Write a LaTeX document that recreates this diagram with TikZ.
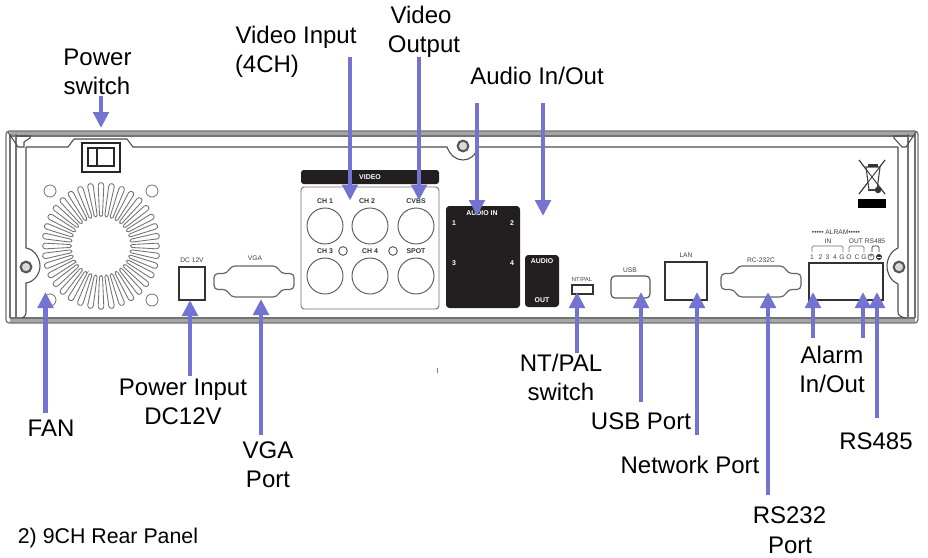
\documentclass[tikz,border=0pt]{standalone}
\usepackage{fontspec}
\setmainfont{Liberation Sans}
\usetikzlibrary{arrows.meta}
\definecolor{arrowblue}{HTML}{7373D2}
\definecolor{panelink}{HTML}{231F20}
\tikzset{
  x=0.75pt,y=-0.75pt,
  lbl/.style={anchor=base,inner sep=0pt,font=\fontsize{18}{18}\selectfont},
  tiny/.style={inner sep=0pt,text=black!75,font=\fontsize{5}{5}\selectfont},
  tinyb/.style={inner sep=0pt,text=black!80,font=\fontsize{5.2}{5}\selectfont\bfseries},
  tinyw/.style={inner sep=0pt,text=white,font=\fontsize{5.2}{5}\selectfont\bfseries},
  arr/.style={draw=arrowblue,line width=3.7pt,-{Triangle[length=12pt,width=11.5pt]}},
  wall/.style={draw=black!70,line width=0.8pt},
  band/.style={draw=black!55,line width=1pt},
  conn/.style={draw=black!75,line width=0.7pt},
  port/.style={draw=black!80,line width=0.9pt},
  bnc/.style={draw=black!65,line width=0.7pt,fill=white},
}
\newcommand{\dsubat}[2]{\draw[port,draw=black!60,rounded corners=3pt,shift={(#1,#2)}]
  (-40,-8) -- (-27,-8) -- (-23,-15.5) -- (23,-15.5) -- (27,-8) -- (40,-8) -- (40,8) -- (27,8)
  -- (23,15.5) -- (-23,15.5) -- (-27,8) -- (-40,8) -- cycle;}
\begin{document}
\begin{tikzpicture}
\useasboundingbox (0,0) rectangle (928,557);
\fill[white] (0,0) rectangle (928,557);

% chassis
\fill[black!35] (10,131) rectangle (915,136);
\fill[black!35] (10,318) rectangle (915,323);
\draw[band,rounded corners=2.5pt] (6,131) -- (918,131) -- (918,323) -- (6,323) -- cycle;
\draw[band] (10,136) -- (915,136);
\draw[band] (10,318) -- (915,318);
\draw[band] (10,134) -- (10,318);
\draw[band] (16,134) -- (16,318);
\draw[band] (908,134) -- (908,318);
\draw[band] (915,134) -- (915,318);
\draw[wall] (26,147) -- (68,147) -- (74,139) -- (127,139) -- (133,147) -- (447,147)
  .. controls (450,155) and (456,160) .. (463,160) .. controls (470,160) and (476,155) .. (478,147) -- (898,147);
\draw[wall] (26,147) -- (26,248) .. controls (34,249) and (40,258) .. (40,266)
  .. controls (40,274) and (34,282) .. (26,283) -- (26,312) .. controls (26,316) and (24,317) .. (22,318);
\draw[wall] (898,147) -- (898,248) .. controls (892,250) and (887,258) .. (887,266)
  .. controls (887,274) and (892,282) .. (898,284) -- (898,312) .. controls (898,316) and (901,317) .. (906,318);
% corner brackets
\draw[wall] (16,136) -- (30,136) -- (30,138) -- (24,142) -- (24,147) -- (18,147) -- (8,132);
\draw[wall] (908,136) -- (894,136) -- (894,138) -- (902,147) -- (906,147) -- (916,132);
% screws
\foreach \n/\sx/\sy in {sl/26/267,st/463/146,sr/899/267}{
  \node[circle,draw=black!65,line width=1.6pt,fill=black!15,minimum size=8pt,inner sep=0pt] (\n) at (\sx,\sy) {};
}

% power switch
\draw[draw=black!85,line width=1.1pt] (82,143) rectangle (120,172);
\draw[draw=black!85,line width=0.8pt] (88,148) rectangle (114,166);
\draw[draw=black!85,line width=0.8pt] (97,148) -- (97,166);

% fan
\draw[draw=black!55,line width=0.6pt] (50,191) circle (6) (152,191) circle (6) (50,300) circle (6) (152,300) circle (6);
\foreach \a in {0,10,...,350}{
  \pgfmathsetmacro{\ro}{55.5+5*abs(sin(\a))}
  \draw[draw=black!55,line width=0.65pt,fill=white,shift={(101,246)},rotate=\a]
    (31,-1.5) -- (\ro,-2.8) .. controls ({\ro+3.8},-2.8) and ({\ro+3.8},2.8) .. (\ro,2.8)
    -- (31,1.5) .. controls (29,1.5) and (29,-1.5) .. cycle;
}

% DC and VGA
\draw[port] (179,267) rectangle (205,300);
\node[tiny] (dcl) at (192,260) {DC 12V};
\dsubat{254}{281.5}
\node[tiny] (vgal) at (255,258) {VGA};

% video
\fill[panelink,rounded corners=2pt] (301,170) rectangle (439,184);
\node[tinyw] (vid) at (370,177.5) {VIDEO};
\draw[draw=black!55,line width=0.7pt,rounded corners=2.5pt] (301,187) rectangle (439,309);
\foreach \n/\cx/\cy in {a/325/226,b/370/226,c/416/226,d/325/276,e/370/276,f/416/276}{
  \node[circle,bnc,minimum size=27pt,inner sep=0pt] (bnc\n) at (\cx,\cy) {};
}
\node[circle,bnc,minimum size=6.5pt,inner sep=0pt] (ledl) at (343,251) {};
\node[circle,bnc,minimum size=6.5pt,inner sep=0pt] (ledr) at (393,251) {};
\node[tinyb] at (325,201) {CH 1};
\node[tinyb] at (367,201) {CH 2};
\node[tinyb] at (416,201) {CVBS};
\node[tinyb] at (325,251) {CH 3};
\node[tinyb] at (370,251) {CH 4};
\node[tinyb] at (416,251) {SPOT};

% audio
\fill[panelink,rounded corners=2.5pt] (446,206) rectangle (520,308);
\node[tinyw] at (482,213) {AUDIO IN};
\node[tinyw] at (454,223) {1};
\node[tinyw] at (512,223) {2};
\node[tinyw] at (454,263) {3};
\node[tinyw] at (512,263) {4};
\fill[panelink,rounded corners=2.5pt] (525,255) rectangle (559,307);
\node[tinyw] at (542,261.5) {AUDIO};
\node[tinyw] at (542,300) {OUT};

% NT/PAL
\node[tiny,font=\fontsize{4.4}{5}\selectfont] at (582,279) {NT/PAL};
\draw[port] (572,285) rectangle (593,294);

% USB, LAN
\node[tiny] at (630,270) {USB};
\draw[draw=black!65,line width=0.9pt,rounded corners=3pt] (611,276) rectangle (650,298);
\node[tiny] at (686,255) {LAN};
\draw[port] (665,262) rectangle (707,300);
\node[tiny] at (761,260) {RC-232C};
\dsubat{761}{281.5}

% alarm
\draw[port] (809,263) rectangle (883,300);
\node[tiny] at (836,232) {••••• ALRAM•••••};
\node[tiny] at (828,241) {IN};
\node[tiny] at (856,241) {OUT};
\node[tiny] at (875,241) {RS485};
\foreach \tx/\tt in {812/1,820.5/2,827.5/3,835/4,842/G,849/O,857/C,864/G,871/+,879/−}{
  \node[tiny] at (\tx,257) {\tt};
}
\draw[draw=black!55,line width=0.5pt,rounded corners=1pt] (812,252) -- (812,246) -- (843,246) -- (843,252);
\draw[draw=black!55,line width=0.5pt,rounded corners=1pt] (849,252) -- (849,246) -- (864,246) -- (864,252);
\draw[draw=black!80,line width=0.5pt,rounded corners=1pt] (872,252) -- (872,246) -- (879,246) -- (879,252);
\draw[draw=black!70,line width=0.5pt] (871,257) circle (3);
\fill[black!80] (879,257) circle (3);
\fill[white] (876.8,256.5) rectangle (881.2,257.5);

% recycle mark
\draw[draw=black!75,line width=0.7pt] (859,160) -- (885,194) (885,160) -- (859,194);
\draw[draw=black!75,line width=0.8pt,fill=white] (866,167) -- (880,167) -- (877,190) -- (869,190) -- cycle;
\draw[draw=black!75,line width=0.7pt] (859,160) -- (885,194) (885,160) -- (859,194);
\fill[black!80] (868,164) rectangle (878,167);
\fill[black!80] (878,190) circle (3.2);
\draw[draw=black!75,line width=0.8pt] (868,190) -- (876,190);
\fill[black] (858,199) rectangle (886,208);

% small mark
\draw[draw=arrowblue,line width=0.7pt] (437,368) -- (437,373);

% labels
\node[lbl] (lpower) at (97.5,65) {Power};
\node[lbl] (lswitch) at (97,94) {switch};
\node[lbl] (lvidin) at (296,43) {Video Input};
\node[lbl] (lch) at (267,72) {(4CH)};
\node[lbl] (lvid) at (421,23) {Video};
\node[lbl] (lvout) at (424,52) {Output};
\node[lbl] (laudio) at (537,84) {Audio In/Out};
\node[lbl] (lnt) at (561,371) {NT/PAL};
\node[lbl] (lnts) at (561,400) {switch};
\node[lbl] (lusb) at (641,429) {USB Port};
\node[lbl] (lnet) at (690,473) {Network Port};
\node[lbl] (lrsa) at (789.5,523) {RS232};
\node[lbl] (lrsb) at (790,553) {Port};
\node[lbl] (lal) at (832,363) {Alarm};
\node[lbl] (lali) at (832,392) {In/Out};
\node[lbl] (lrs) at (876,449) {RS485};
\node[lbl] (lpin) at (183,395) {Power Input};
\node[lbl] (ldc) at (183,424) {DC12V};
\node[lbl] (lvga) at (268,458) {VGA};
\node[lbl] (lvgp) at (268,487) {Port};
\node[lbl] (lfan) at (51,436) {FAN};
\node[lbl,font=\fontsize{16}{16}\selectfont] (lrear) at (108,543) {2) 9CH Rear Panel};

% arrow ends
\foreach \n/\ax/\ay/\bx/\by in {
  pw/101/96/101/128, vi/350/57/350/200.5, vo/419/57/419/200.5,
  ai/477/103/477/216, ao/543/103/543/216,
  fa/45.5/413/45.5/292, pi/190/376/190/300, vg/261/435/261/299,
  np/577/353/577/292, us/641/402/641/292, la/697/435/697/292,
  rc/768/495/768/292, aa/813/338/813/292, ab/863/338/863/292, rb/877/418/877/292}{
  \coordinate (\n t) at (\ax,\ay);
  \coordinate (\n h) at (\bx,\by);
  \draw[arr] (\n t) -- (\n h);
}
\end{tikzpicture}
\end{document}
